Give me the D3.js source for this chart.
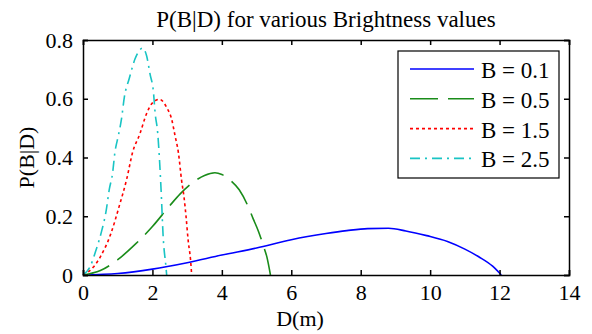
<!DOCTYPE html>
<html>
<head>
<meta charset="utf-8">
<script src="https://cdn.jsdelivr.net/npm/d3@7"></script>
<style>
  body { margin: 0; background: #fff; }
  svg text { font-family: "Liberation Serif", "Times New Roman", Times, serif; fill: #000; }
  .tick text { font-size: 22px; }
</style>
</head>
<body>
<div id="chart"></div>
<script>
// Values
const xTicks = [0, 2, 4, 6, 8, 10, 12, 14];
const yTicks = [0, 0.2, 0.4, 0.6, 0.8];
const seriesNames = ["B = 0.1", "B = 0.5", "B = 1.5", "B = 2.5"];

const dB01 = [0, 1, 2, 3, 4, 5, 6, 7, 7.6, 8.2, 8.8, 9.3, 9.9, 10.5, 11, 11.4, 11.8, 12.05];
const pB01 = [0, 0.005, 0.02, 0.042, 0.068, 0.092, 0.12, 0.141, 0.151, 0.158, 0.159, 0.15, 0.134, 0.114, 0.088, 0.062, 0.03, 0];

const dB05 = [0, 0.5, 1.0, 1.5, 2.0, 2.5, 2.8, 3.2, 3.5, 3.8, 4.0, 4.25, 4.5, 4.75, 4.9, 5.05, 5.2, 5.3, 5.4];
const pB05 = [0, 0.015, 0.052, 0.104, 0.165, 0.236, 0.276, 0.318, 0.339, 0.348, 0.342, 0.322, 0.29, 0.235, 0.192, 0.15, 0.098, 0.06, 0];

const dB15 = [0, 0.3, 0.5, 0.8, 1.05, 1.26, 1.43, 1.64, 1.83, 1.98, 2.2, 2.43, 2.55, 2.65, 2.75, 2.84, 2.91, 2.97, 3.03, 3.1, 3.13];
const pB15 = [0, 0.027, 0.062, 0.14, 0.237, 0.327, 0.418, 0.481, 0.549, 0.583, 0.598, 0.566, 0.532, 0.475, 0.415, 0.322, 0.265, 0.197, 0.117, 0.049, 0];

const dB25 = [0, 0.2, 0.37, 0.54, 0.66, 0.76, 0.85, 0.92, 1.02, 1.11, 1.19, 1.33, 1.5, 1.72, 1.83, 1.93, 2.03, 2.08, 2.15, 2.2, 2.25, 2.31, 2.39, 2.41];
const pB25 = [0, 0.027, 0.083, 0.151, 0.214, 0.293, 0.345, 0.418, 0.475, 0.532, 0.605, 0.668, 0.736, 0.772, 0.747, 0.685, 0.622, 0.549, 0.486, 0.4, 0.288, 0.129, 0.027, 0];

const width = 592;
const height = 334;
const margin = { top: 40, right: 23, bottom: 59, left: 83 };

const series = [
    { name: seriesNames[0], d: dB01, p: pB01, color: "#0000ff", dash: null },
    { name: seriesNames[1], d: dB05, p: pB05, color: "#1a8c1a", dash: "28,10" },
    { name: seriesNames[2], d: dB15, p: pB15, color: "#ff0000", dash: "3,3" },
    { name: seriesNames[3], d: dB25, p: pB25, color: "#19c4c4", dash: "10,5,2,5" }
];

const svg = d3.select("#chart")
    .append("svg")
    .attr("width", width)
    .attr("height", height);

const x = d3.scaleLinear().domain([0, 14]).range([margin.left, width - margin.right]);
const y = d3.scaleLinear().domain([0, 0.8]).range([height - margin.bottom, margin.top]);

// Curves
const line = d3.line()
    .x(d => x(d[0]))
    .y(d => y(d[1]))
    .curve(d3.curveMonotoneX);

series.forEach(s => {
    svg.append("path")
        .datum(s.d.map((v, i) => [v, s.p[i]]))
        .attr("d", line)
        .attr("fill", "none")
        .attr("stroke", s.color)
        .attr("stroke-width", 1.6)
        .attr("stroke-dasharray", s.dash);
});

// Axes (ticks pointing inwards on all four sides)
const tickLen = 5;
svg.append("g")
    .attr("transform", `translate(0,${y(0)})`)
    .call(d3.axisBottom(x).tickValues(xTicks).tickSize(-tickLen).tickPadding(9));
svg.append("g")
    .attr("transform", `translate(0,${y(0.8)})`)
    .call(d3.axisTop(x).tickValues(xTicks).tickSize(-tickLen).tickFormat(""));
svg.append("g")
    .attr("transform", `translate(${x(0)},0)`)
    .call(d3.axisLeft(y).tickValues(yTicks).tickSize(-tickLen).tickPadding(10).tickFormat(d => d === 0 ? "0" : d3.format(".1f")(d)));
svg.append("g")
    .attr("transform", `translate(${x(14)},0)`)
    .call(d3.axisRight(y).tickValues(yTicks).tickSize(-tickLen).tickFormat(""));

svg.selectAll(".domain, .tick line")
    .attr("stroke", "#000")
    .attr("stroke-width", 1.5);

// Title and axis labels
svg.append("text")
    .attr("x", (x(0) + x(14)) / 2)
    .attr("y", 27)
    .attr("text-anchor", "middle")
    .style("font-size", "23px")
    .text("P(B|D) for various Brightness values");

svg.append("text")
    .attr("x", 300)
    .attr("y", 326)
    .attr("text-anchor", "middle")
    .style("font-size", "22px")
    .text("D(m)");

svg.append("text")
    .attr("transform", `translate(34,${(y(0) + y(0.8)) / 2}) rotate(-90)`)
    .attr("text-anchor", "middle")
    .style("font-size", "22px")
    .text("P(B|D)");

// Legend
const legend = svg.append("g");
legend.append("rect")
    .attr("x", 398).attr("y", 51)
    .attr("width", 161).attr("height", 127)
    .attr("fill", "#fff")
    .attr("stroke", "#000")
    .attr("stroke-width", 1.2);

series.forEach((s, i) => {
    const ly = 69 + i * 29.8;
    legend.append("line")
        .attr("x1", 410).attr("x2", 474)
        .attr("y1", ly).attr("y2", ly)
        .attr("stroke", s.color)
        .attr("stroke-width", 1.6)
        .attr("stroke-dasharray", s.dash);
    legend.append("text")
        .attr("x", 481)
        .attr("y", ly + 9)
        .style("font-size", "23px")
        .text(s.name);
});
</script>
</body>
</html>
